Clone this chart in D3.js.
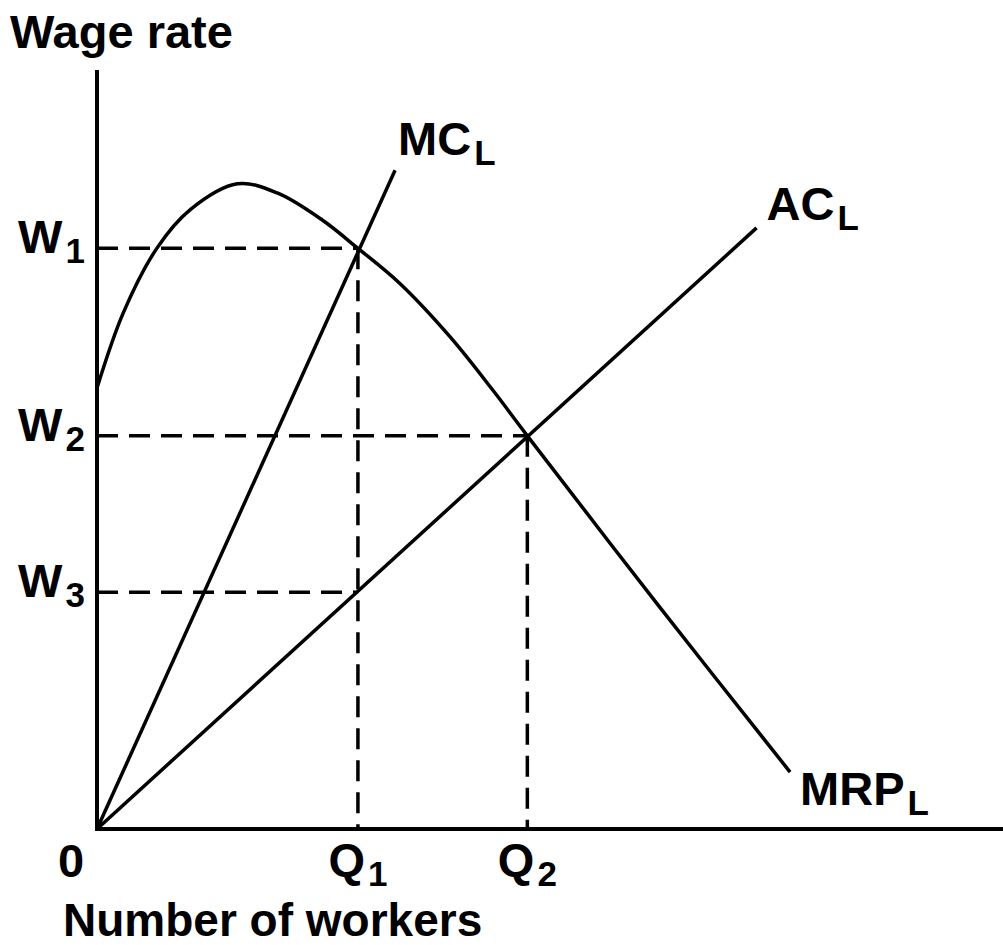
<!DOCTYPE html>
<html>
<head>
<meta charset="utf-8">
<script src="https://cdn.jsdelivr.net/npm/d3@7"></script>
<style>
  body { margin: 0; background: #fff; }
  text { font-family: "Liberation Sans", Arial, sans-serif; font-weight: bold; fill: #000; }
</style>
</head>
<body>
<div id="canvas"></div>
<script>
// wage levels on the vertical axis
const wageSubs = ["1", "2", "3"];
const wageValues = [7.65, 5.18, 3.12];

// worker quantities on the horizontal axis
const qtySubs = ["1", "2"];
const qtyValues = [2.88, 4.75];

// which wage meets which quantity (index pairs)
const guides = [[0, 0], [1, 1], [2, 0]];

// marginal revenue product curve
const mrpX = [0, 0.29, 0.66, 1.03, 1.55, 1.99, 2.49, 2.88, 3.34, 3.90, 4.37, 4.75, 6.20, 7.65];
const mrpY = [5.81, 6.80, 7.65, 8.16, 8.50, 8.38, 8.02, 7.65, 7.19, 6.48, 5.78, 5.18, 2.94, 0.75];

// straight cost curves, start and end
const mcX = [0, 3.29], mcY = [0, 8.68];
const acX = [0, 7.28], acY = [0, 7.92];

const width = 1003, height = 945;
const lw = 3.5;

const svg = d3.select("#canvas")
    .append("svg")
    .attr("width", width)
    .attr("height", height);

const x = d3.scaleLinear().domain([0, 10]).range([97, 1003]);
const y = d3.scaleLinear().domain([0, 10]).range([829, 70]);

const line = d3.line().x(d => x(d[0])).y(d => y(d[1]));

// dashed guides
guides.forEach(([wi, qi]) => {
    svg.append("path")
        .attr("d", line([[0, wageValues[wi]], [qtyValues[qi], wageValues[wi]]]))
        .attr("stroke", "#000").attr("stroke-width", lw)
        .attr("stroke-dasharray", "21,11").attr("fill", "none");
});
qtyValues.forEach((q, qi) => {
    const top = d3.max(guides.filter(g => g[1] === qi), g => wageValues[g[0]]);
    svg.append("path")
        .attr("d", line([[q, top], [q, 0]]))
        .attr("stroke", "#000").attr("stroke-width", lw)
        .attr("stroke-dasharray", "21,11").attr("fill", "none");
});

// curves
const curvy = d3.line().x(d => x(d[0])).y(d => y(d[1])).curve(d3.curveCatmullRom.alpha(0.5));
svg.append("path")
    .attr("d", curvy(mrpX.map((v, i) => [v, mrpY[i]])))
    .attr("stroke", "#000").attr("stroke-width", lw).attr("fill", "none");

svg.append("path")
    .attr("d", line(mcX.map((v, i) => [v, mcY[i]])))
    .attr("stroke", "#000").attr("stroke-width", lw).attr("fill", "none");
svg.append("path")
    .attr("d", line(acX.map((v, i) => [v, acY[i]])))
    .attr("stroke", "#000").attr("stroke-width", lw).attr("fill", "none");

// axes
svg.append("line")
    .attr("x1", x(0)).attr("x2", x(0)).attr("y1", y(10)).attr("y2", y(0) + 2)
    .attr("stroke", "#000").attr("stroke-width", 4);
svg.append("line")
    .attr("x1", x(0)).attr("x2", x(10)).attr("y1", y(0)).attr("y2", y(0))
    .attr("stroke", "#000").attr("stroke-width", 4);

// label with subscript
function label(px, py, main, sub, anchor) {
    const t = svg.append("text")
        .attr("x", px).attr("y", py)
        .attr("font-size", 47)
        .attr("text-anchor", anchor || "start");
    t.append("tspan").text(main);
    t.append("tspan").attr("font-size", 35).attr("dx", 3).attr("dy", 10).text(sub);
}

wageValues.forEach((w, i) => label(18, y(w) + 5, "W", wageSubs[i]));
qtyValues.forEach((q, i) => label(x(q), 876, "Q", qtySubs[i], "middle"));

label(x(mcX[1]) + 3, y(mcY[1]) - 15, "MC", "L");
label(x(acX[1]) + 10, y(acY[1]) - 8, "AC", "L");
label(x(mrpX[mrpX.length - 1]) + 10, y(mrpY[mrpY.length - 1]) + 33, "MRP", "L");

svg.append("text")
    .attr("x", 71).attr("y", 877)
    .attr("font-size", 47).attr("text-anchor", "middle")
    .text("0");

svg.append("text")
    .attr("x", 10).attr("y", 48)
    .attr("font-size", 47)
    .text("Wage rate");

svg.append("text")
    .attr("x", 63).attr("y", 936)
    .attr("font-size", 46)
    .text("Number of workers");
</script>
</body>
</html>
